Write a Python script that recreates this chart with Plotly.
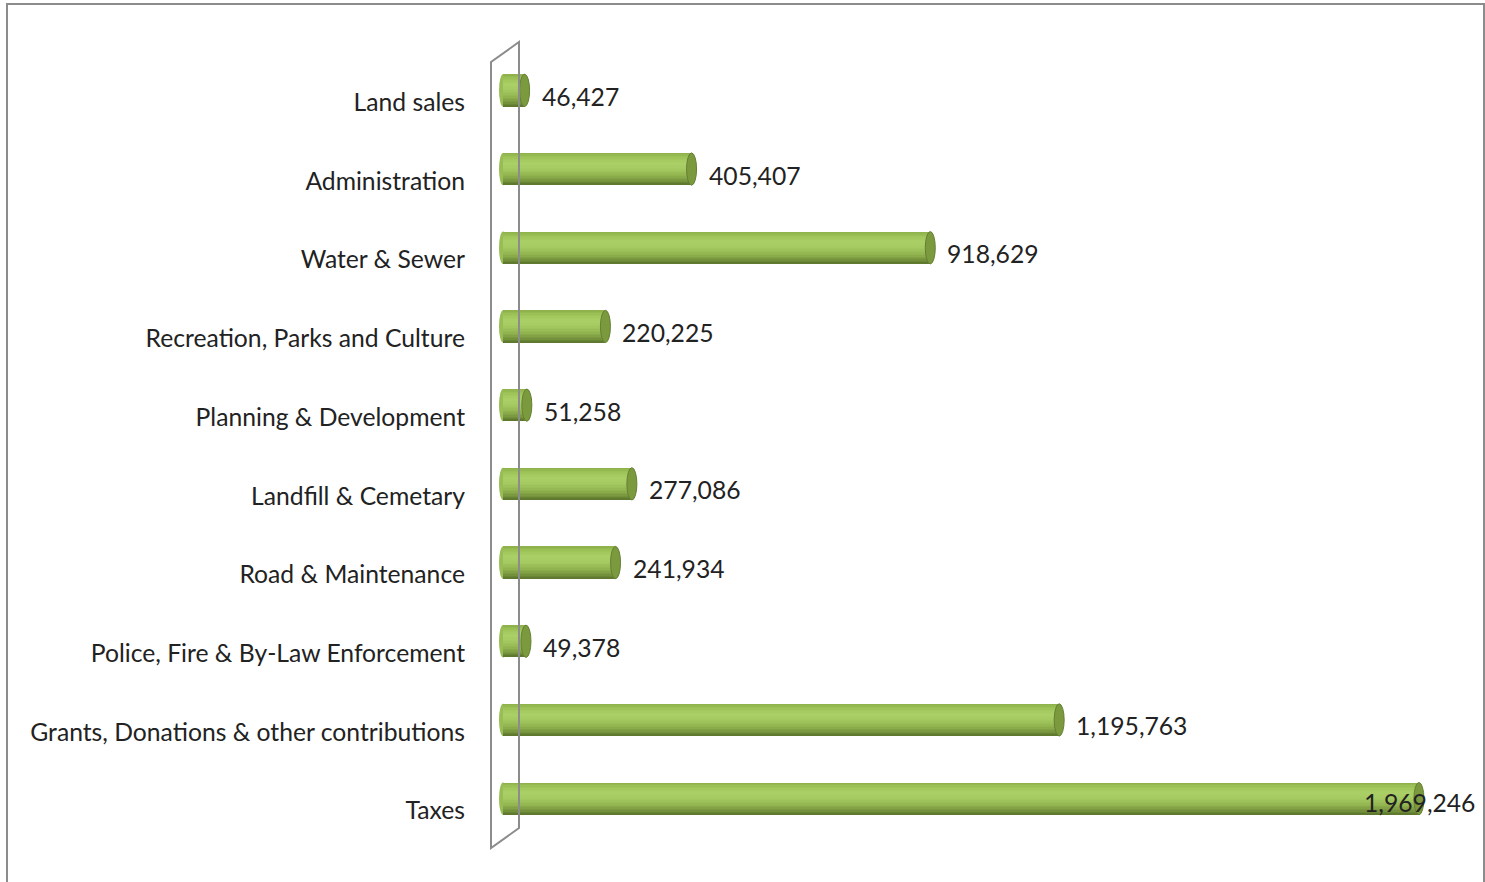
import plotly.graph_objects as go

categories = ["Land sales", "Administration", "Water & Sewer", "Recreation, Parks and Culture",
              "Planning & Development", "Landfill & Cemetary", "Road & Maintenance",
              "Police, Fire & By-Law Enforcement", "Grants, Donations & other contributions", "Taxes"]
values = [46427, 405407, 918629, 220225, 51258, 277086, 241934, 49378, 1195763, 1969246]
value_labels = ["46,427", "405,407", "918,629", "220,225", "51,258", "277,086", "241,934",
                "49,378", "1,195,763", "1,969,246"]

W, H = 1485, 882
ml, mr, mt, mb = 470, 22, 51, 44
plot_w = W - ml - mr
x_min, x_max = -70950, 2064000
upp = (x_max - x_min) / plot_w  # data units per pixel

FONT = "Lato"
FS = 24.7
fig = go.Figure()

# cylinder shading: colour stops from top edge to bottom edge
stops = [(0.0, (0x8c, 0xae, 0x4a)), (0.12, (0x9c, 0xc2, 0x57)), (0.32, (0xaa, 0xd0, 0x67)),
         (0.5, (0xa4, 0xc9, 0x60)), (0.7, (0x92, 0xb4, 0x50)), (0.88, (0x74, 0x92, 0x3c)),
         (1.0, (0x5a, 0x74, 0x2c))]

def grad(t):
    for (t0, c0), (t1, c1) in zip(stops[:-1], stops[1:]):
        if t0 <= t <= t1:
            f = (t - t0) / (t1 - t0)
            return "rgb(%d,%d,%d)" % tuple(round(a + (b - a) * f) for a, b in zip(c0, c1))
    return "rgb(%d,%d,%d)" % stops[-1][1]

thick = 0.41
n = 22
sw = thick / n
for i in range(n):
    c = grad((i + 0.5) / n)
    fig.add_trace(go.Bar(
        x=values, y=categories, orientation="h",
        width=sw * 1.6 if i < n - 1 else sw, offset=-thick / 2 + i * sw,
        marker=dict(color=c, line=dict(width=0)),
        hoverinfo="skip", showlegend=False,
    ))

shapes = []
cap_half = 5 * upp
for i, v in enumerate(values):
    shapes.append(dict(type="circle", xref="x", yref="y",
                       x0=v - cap_half, x1=v + cap_half,
                       y0=i - thick / 2, y1=i + thick / 2,
                       fillcolor="#7b9a3e", line=dict(color="#657f33", width=1)))
    # rounded left end
    shapes.append(dict(type="circle", xref="x", yref="y",
                       x0=-cap_half * 0.8, x1=cap_half * 0.8,
                       y0=i - thick / 2, y1=i + thick / 2,
                       fillcolor="#98bd55", line=dict(width=0), layer="below"))

# 3D wall outline (paper coords)
plot_h = H - mt - mb
def px(xp):
    return (xp - ml) / plot_w
def py(yp):
    return (H - mb - yp) / plot_h
wall = f"M {px(491)},{py(848)} L {px(491)},{py(62)} L {px(519)},{py(42)} L {px(519)},{py(828)} Z"
shapes.append(dict(type="path", xref="paper", yref="paper", path=wall,
                   line=dict(color="#8c8c8c", width=2), fillcolor="rgba(0,0,0,0)"))
# outer chart border
shapes.append(dict(type="rect", xref="paper", yref="paper",
                   x0=px(7), x1=px(1484), y0=py(4), y1=py(H + 10),
                   line=dict(color="#8c8c8c", width=2)))

annotations = []
vmax = max(values)
for i, (v, t) in enumerate(zip(values, value_labels)):
    if v == vmax:
        annotations.append(dict(x=v, y=i, xref="x", yref="y", text=t, showarrow=False,
                                xanchor="right", xshift=58, yshift=-4,
                                font=dict(family=FONT, size=FS, color="#222222")))
    else:
        annotations.append(dict(x=v, y=i, xref="x", yref="y", text=t, showarrow=False,
                                xanchor="left", xshift=15, yshift=-6,
                                font=dict(family=FONT, size=FS, color="#222222")))

fig.update_layout(
    width=W, height=H,
    margin=dict(l=ml, r=mr, t=mt, b=mb),
    paper_bgcolor="white", plot_bgcolor="white",
    barmode="overlay", bargap=0,
    showlegend=False,
    shapes=shapes, annotations=annotations,
    xaxis=dict(range=[x_min, x_max], visible=False, fixedrange=True),
    yaxis=dict(categoryorder="array", categoryarray=categories, autorange="reversed",
               showgrid=False, zeroline=False, showline=False, ticks="",
               ticklabelshift=-12, ticklabelstandoff=4, fixedrange=True,
               tickfont=dict(family=FONT, size=FS, color="#222222")),
)

fig.write_html("out.html", config={"displayModeBar": False},
               post_script="document.body.style.margin='0';document.body.style.overflow='hidden';")
